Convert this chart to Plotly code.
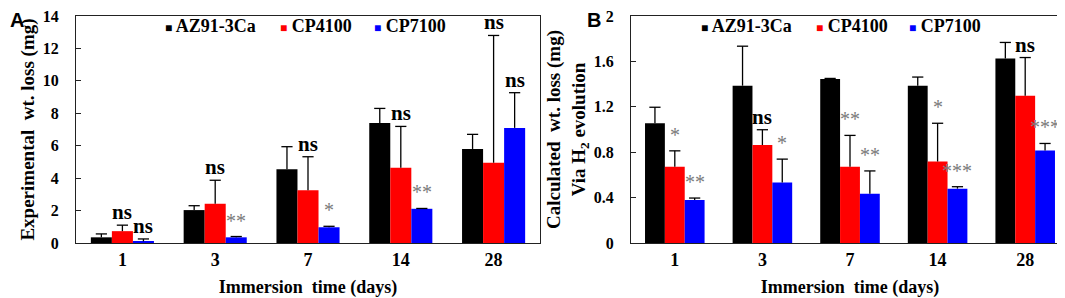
import plotly.graph_objects as go

# ---------------- data ----------------
days = ["1", "3", "7", "14", "28"]
series_names = ["AZ91-3Ca", "CP4100", "CP7100"]

# Panel A: experimental weight loss (mg)
exp_az91 = [0.35, 2.03, 4.55, 7.40, 5.80]
exp_cp4100 = [0.73, 2.42, 3.25, 4.64, 4.95]
exp_cp7100 = [0.10, 0.35, 0.97, 2.11, 7.10]
exp_err_az91 = [0.21, 0.27, 1.39, 0.90, 0.90]
exp_err_cp4100 = [0.37, 1.45, 2.07, 2.55, 7.85]
exp_err_cp7100 = [0.15, 0.05, 0.06, 0.02, 2.17]
exp_sig_az91 = ["", "", "", "", ""]
exp_sig_cp4100 = ["ns", "ns", "ns", "ns", "ns"]
exp_sig_cp7100 = ["ns", "**", "*", "**", "ns"]

# Panel B: calculated weight loss via H2 evolution (mg)
h2_az91 = [1.055, 1.386, 1.445, 1.386, 1.625]
h2_cp4100 = [0.671, 0.863, 0.671, 0.718, 1.297]
h2_cp7100 = [0.378, 0.532, 0.434, 0.479, 0.815]
h2_err_az91 = [0.141, 0.348, 0.005, 0.076, 0.142]
h2_err_cp4100 = [0.141, 0.135, 0.277, 0.337, 0.337]
h2_err_cp7100 = [0.018, 0.207, 0.201, 0.017, 0.062]
h2_sig_az91 = ["", "", "", "", ""]
h2_sig_cp4100 = ["*", "ns", "**", "*", "ns"]
h2_sig_cp7100 = ["**", "*", "**", "***", "***"]

# ---------------- styles ----------------
colors = ["#000000", "#FF0000", "#0000FF"]
SERIF = "Liberation Serif, Times New Roman, serif"
BARGAP = 0.32
bar_w = (1 - BARGAP) / 3
offsets = [-bar_w, 0.0, bar_w]
xpos = list(range(len(days)))

panels = [
    dict(xa="x", ya="y",
         values=[exp_az91, exp_cp4100, exp_cp7100],
         errs=[exp_err_az91, exp_err_cp4100, exp_err_cp7100],
         sigs=[exp_sig_az91, exp_sig_cp4100, exp_sig_cp7100],
         legend_x=[155, 270, 364]),
    dict(xa="x2", ya="y2",
         values=[h2_az91, h2_cp4100, h2_cp7100],
         errs=[h2_err_az91, h2_err_cp4100, h2_err_cp7100],
         sigs=[h2_sig_az91, h2_sig_cp4100, h2_sig_cp7100],
         legend_x=[691, 806, 899]),
]

fig = go.Figure()
annotations = []

for p in panels:
    for k, name in enumerate(series_names):
        vals = p["values"][k]
        errs = p["errs"][k]
        fig.add_trace(go.Bar(
            x=xpos, y=vals, name=name, xaxis=p["xa"], yaxis=p["ya"],
            showlegend=False,
            marker=dict(color=colors[k], line=dict(width=0)),
            error_y=dict(type="data", symmetric=False, array=errs,
                         arrayminus=[0] * len(errs), color="#000000",
                         thickness=1.3, width=0),
        ))
    # error-bar hats (top caps only)
    for k, name in enumerate(series_names):
        vals = p["values"][k]
        errs = p["errs"][k]
        fig.add_trace(go.Scatter(
            x=[i + offsets[k] for i in xpos],
            y=[v + e for v, e in zip(vals, errs)],
            mode="markers", xaxis=p["xa"], yaxis=p["ya"], showlegend=False,
            hoverinfo="skip",
            marker=dict(symbol="line-ew", size=8, color="#000000",
                        line=dict(width=1.3, color="#000000")),
        ))
    # significance labels
    for k in range(3):
        for i in xpos:
            lab = p["sigs"][k][i]
            if not lab:
                continue
            top = p["values"][k][i] + p["errs"][k][i]
            is_ns = lab == "ns"
            annotations.append(dict(
                x=i + offsets[k], y=top, xref=p["xa"], yref=p["ya"],
                text=lab, showarrow=False, xanchor="center",
                yanchor="middle" if is_ns else "bottom",
                yshift=13 if is_ns else 3,
                font=dict(family=SERIF, size=21 if is_ns else 20,
                          color="#000000" if is_ns else "#7a7a7a",
                          weight="bold" if is_ns else "normal"),
            ))
    # legend entries (colour swatch + series name)
    for k, name in enumerate(series_names):
        annotations.append(dict(
            x=p["legend_x"][k] / 1065, y=0.925, xref="paper", yref="paper",
            xanchor="left", yanchor="middle", showarrow=False, yshift=7,
            text=f'<span style="color:{colors[k]};font-size:12px">■</span> {name}',
            font=dict(family=SERIF, size=18, color="#000000", weight="bold"),
        ))

# panel letters
annotations.append(dict(x=0.0, y=1.0, xref="paper", yref="paper", xshift=1,
                        yshift=8, text="A", showarrow=False, borderpad=0,
                        xanchor="left", yanchor="top",
                        font=dict(family="Liberation Sans", size=20,
                                  color="#000000", weight="bold")))
annotations.append(dict(x=578 / 1065, y=1.0, xref="paper", yref="paper",
                        xshift=0, yshift=8, text="B", showarrow=False,
                        borderpad=0, xanchor="left", yanchor="top",
                        font=dict(family="Liberation Sans", size=20,
                                  color="#000000", weight="bold")))

axis_line = "#222222"

def xaxis_cfg(domain, anchor):
    return dict(domain=domain, anchor=anchor, range=[-0.5, 4.5],
                tickvals=xpos, ticktext=days, ticks="", showgrid=False,
                zeroline=False, showline=True, linecolor=axis_line,
                linewidth=1, mirror=True, automargin=False,
                ticklabelstandoff=0,
                tickfont=dict(family=SERIF, size=18, color="#000000",
                              weight="bold"),
                title=dict(text="Immersion\u00a0 time (days)", standoff=11,
                           font=dict(family=SERIF, size=18, color="#000000",
                                     weight="bold")))

def yaxis_cfg(domain, anchor, rng, dtick, title, standoff):
    return dict(domain=domain, anchor=anchor, range=rng, dtick=dtick,
                ticks="inside", ticklen=5, tickcolor=axis_line,
                showgrid=False, zeroline=False, showline=True,
                linecolor=axis_line, linewidth=1, mirror=True,
                automargin=False, ticklabelstandoff=13,
                ticklabeloverflow="allow",
                tickfont=dict(family=SERIF, size=16, color="#000000",
                              weight="bold"),
                title=dict(text=title, standoff=standoff,
                           font=dict(family=SERIF, size=19, color="#000000",
                                     weight="bold")))

fig.update_layout(
    width=1065, height=298,
    margin=dict(l=0, r=0, t=8, b=63),
    paper_bgcolor="#FFFFFF", plot_bgcolor="#FFFFFF",
    barmode="group", bargap=BARGAP, bargroupgap=0,
    xaxis=xaxis_cfg([68 / 1065, 532 / 1065], "y"),
    xaxis2=xaxis_cfg([623 / 1065, 1061 / 1065], "y2"),
    yaxis=yaxis_cfg([0, 1], "x", [0, 14], 2,
                    "Experimental\u00a0 wt. loss (mg)", 3),
    yaxis2=yaxis_cfg([0, 1], "x2", [0, 2], 0.4,
                     "Calculated\u00a0 wt. loss (mg)<br>Via H<sub>2</sub> evolution", 3),
    annotations=annotations,
    showlegend=False,
)

fig.write_html("out.html")
